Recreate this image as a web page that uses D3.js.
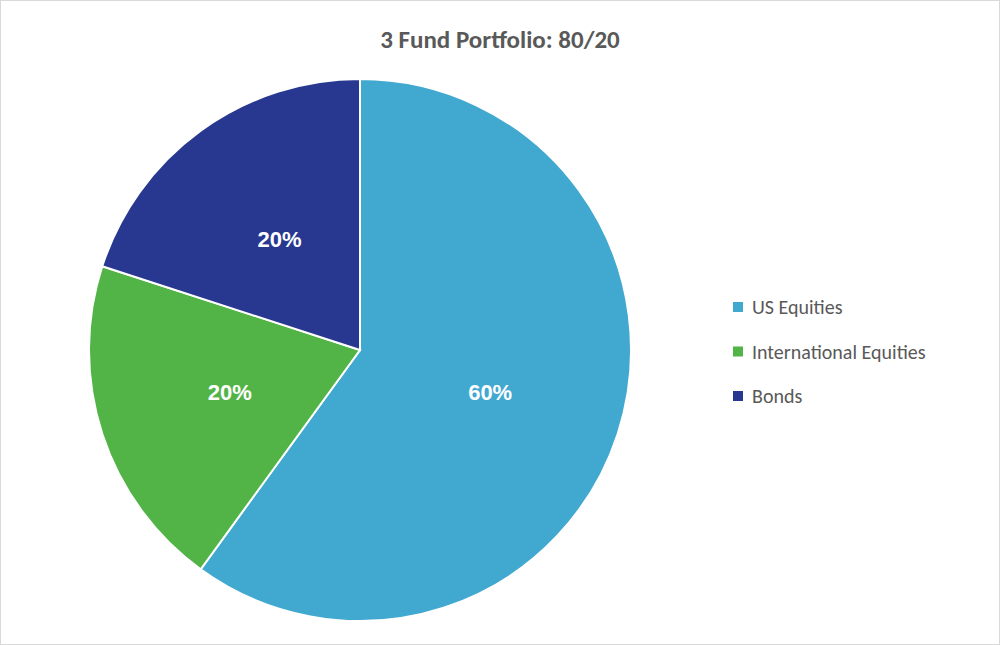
<!DOCTYPE html>
<html><head><meta charset="utf-8">
<script src="https://cdn.jsdelivr.net/npm/d3@7"></script>
<style>body{margin:0;background:#fff}</style></head>
<body><svg id="c" width="1000" height="645"></svg>
<script>
const categories = ["US Equities", "International Equities", "Bonds"];
const values = [60, 20, 20];
const labels = ["60%", "20%", "20%"];
const colors = ["#41A8D0", "#52B447", "#283891"];

const svg = d3.select("#c");
svg.append("rect").attr("x",0.5).attr("y",0.5).attr("width",999).attr("height",644)
  .attr("fill","#fff").attr("stroke","#d9d9d9");
svg.append("text").attr("x",500).attr("y",48).attr("text-anchor","middle")
  .attr("font-family","Calibri, Carlito, 'Open Sans', sans-serif").attr("font-weight","bold")
  .attr("font-size",25).attr("fill","#595959").text("3 Fund Portfolio: 80/20");

const R = 271;
const g = svg.append("g").attr("transform","translate(360,350)");
const pie = d3.pie().sort(null).value(d=>d)(values);
const arc = d3.arc().innerRadius(0).outerRadius(R);
g.selectAll("path").data(pie).join("path").attr("d",arc)
  .attr("fill",(d,i)=>colors[i]).attr("stroke","#fff").attr("stroke-width",2);
g.selectAll("text").data(pie).join("text")
  .attr("transform",d=>{const c=d3.arc().innerRadius(0).outerRadius(R*1.01).centroid(d);return `translate(${c})`;})
  .attr("text-anchor","middle").attr("dy","0.35em")
  .attr("font-family","Arial, 'Liberation Sans', sans-serif").attr("font-weight","bold")
  .attr("font-size",22).attr("fill","#fff").text((d,i)=>labels[i]);

const y = d3.scalePoint().domain(categories).range([307,396]);
const lg = svg.append("g");
categories.forEach((c,i)=>{
  lg.append("rect").attr("x",733).attr("y",y(c)-5).attr("width",10).attr("height",10).attr("fill",colors[i]);
  lg.append("text").attr("x",752).attr("y",y(c)).attr("dy","0.35em")
    .attr("font-family","Calibri, Carlito, 'Open Sans', sans-serif").attr("font-size",20)
    .attr("fill","#595959").text(c);
});
</script></body></html>
